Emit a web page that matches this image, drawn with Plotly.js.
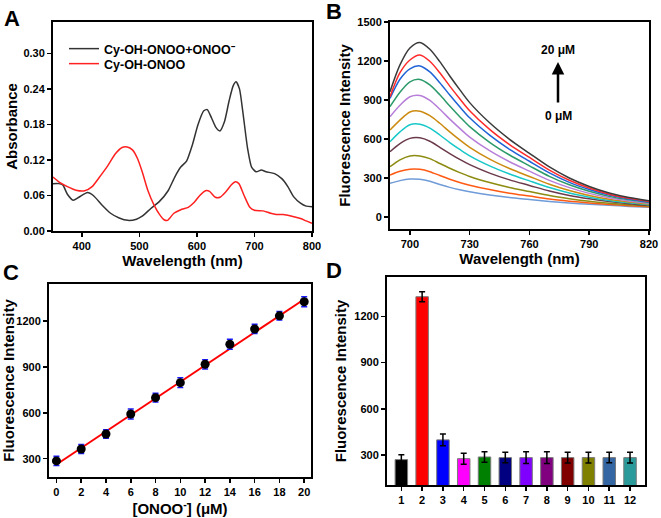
<!DOCTYPE html>
<html><head><meta charset="utf-8">
<script src="https://cdn.plot.ly/plotly-3.0.1.min.js"></script>
<style>html,body{margin:0;padding:0;background:#fff}#chart{width:661px;height:518px}</style>
</head><body><div id="chart"></div>
<script>
// Panel A: absorbance
const absWlBlack = [350,360,367,375,385,395,410,420,435,450,465,480,495,505,520,535,550,562,572,582,592,602,612,618,625,633,640,648,656,663,668,674,680,688,695,703,712,720,735,748,758,768,780,790,800];
const absBlack = [0.080,0.080,0.078,0.062,0.052,0.057,0.065,0.060,0.044,0.030,0.022,0.018,0.020,0.025,0.038,0.050,0.068,0.092,0.108,0.118,0.145,0.180,0.203,0.205,0.192,0.175,0.169,0.185,0.220,0.245,0.252,0.240,0.200,0.140,0.108,0.100,0.103,0.100,0.097,0.088,0.075,0.058,0.047,0.042,0.041];
const absWlRed = [350,360,375,390,405,418,430,445,458,470,479,488,497,505,515,525,535,543,549,553,560,572,585,595,605,615,622,632,640,650,660,667,673,682,692,700,715,728,738,750,765,780,790,800];
const absRed = [0.091,0.083,0.075,0.069,0.068,0.075,0.090,0.110,0.130,0.141,0.142,0.137,0.122,0.100,0.068,0.045,0.028,0.019,0.018,0.022,0.030,0.036,0.040,0.048,0.060,0.068,0.067,0.057,0.057,0.066,0.078,0.083,0.080,0.060,0.040,0.035,0.034,0.030,0.028,0.028,0.025,0.021,0.017,0.013];
const absNames = ['Cy-OH-ONOO+ONOO⁻','Cy-OH-ONOO'];

// Panel B: fluorescence spectra, 0 to 20 uM
const flWl = [690,695,700,705,710,715,720,725,730,740,750,760,770,780,790,800,810,820];
const fl20 = [964,1170,1300,1342,1290,1195,1085,980,880,725,598,490,385,300,235,185,150,125];
const fl18 = [926,1110,1208,1246,1198,1109,1007,910,818,674,557,458,361,283,223,176,144,120];
const fl16 = [913,1060,1140,1162,1116,1033,938,848,763,630,521,429,340,267,212,169,138,116];
const fl14 = [849,960,1040,1058,1016,940,854,772,695,575,477,394,313,248,198,159,132,112];
const fl12 = [772,860,925,935,897,829,753,682,615,510,425,353,282,226,182,148,124,106];
const fl10 = [669,745,808,814,780,721,655,593,536,446,373,312,252,204,166,137,116,100];
const fl8  = [579,655,710,714,684,631,573,520,471,394,331,278,227,185,153,128,109,95];
const fl6  = [503,565,605,609,583,536,488,443,403,338,286,243,200,166,140,119,103,90];
const fl4  = [387,440,470,470,449,412,375,342,312,265,227,196,165,141,121,106,94,84];
const fl2  = [323,352,368,367,349,319,291,266,245,211,183,161,139,122,108,97,87,79];
const fl0  = [259,280,292,290,275,250,228,210,195,170,150,135,120,108,98,90,82,75];
const flSeries = [fl20,fl18,fl16,fl14,fl12,fl10,fl8,fl6,fl4,fl2,fl0];
const flColors = ['#3a3a3a','#ff2a2a','#1f63d6','#2b9a6a','#b77fd9','#cc8a10','#18c8c8','#6b3a4a','#8c8c12','#ff5a14','#6f9cd8'];

// Panel C: calibration
const concX = [0,2,4,6,8,10,12,14,16,18,20];
const concY = [285,363,461,592,699,797,917,1048,1148,1234,1326];
const concErr = [30,30,28,32,28,32,30,32,30,28,32];
const fitX = [0,20];
const fitY = [262,1342];

// Panel D: selectivity
const selCats = [1,2,3,4,5,6,7,8,9,10,11,12];
const selVals = [270,1328,398,276,287,283,283,283,283,283,283,283];
const selErr = [32,33,38,36,34,34,38,38,35,35,34,35];
const selColors = ['#000000','#ff0000','#0000ff','#ff00ff','#008000','#000080','#8000ff','#800080','#800000','#808000','#3366a3','#2a9a9a'];

const FONT = 'Liberation Sans, Arial, sans-serif';
const tickF = {family: FONT, size: 11, color: '#000', weight: 'bold'};
const titleF = {family: FONT, size: 15, color: '#000', weight: 'bold'};
const letterF = {family: FONT, size: 22, color: '#000', weight: 'bold'};
const legF = {family: FONT, size: 12.5, color: '#000', weight: 'bold'};

function ax(extra){
  return Object.assign({
    showline: true, linecolor: '#000', linewidth: 2, mirror: true,
    ticks: 'outside', ticklen: 4, tickwidth: 1.5, tickcolor: '#000',
    showgrid: false, zeroline: false, tickfont: tickF
  }, extra);
}

const traces = [];
traces.push({x: absWlBlack, y: absBlack, name: absNames[0], type: 'scatter', mode: 'lines', legend: 'legend',
  line: {color: '#333333', width: 1.5, shape: 'spline', smoothing: 0.6}, xaxis: 'x', yaxis: 'y'});
traces.push({x: absWlRed, y: absRed, name: absNames[1], type: 'scatter', mode: 'lines', legend: 'legend2',
  line: {color: '#ff2020', width: 1.5, shape: 'spline', smoothing: 0.6}, xaxis: 'x', yaxis: 'y'});

flSeries.slice().reverse().forEach((s, k) => {
  const i = flSeries.length - 1 - k;
  traces.push({x: flWl, y: s, type: 'scatter', mode: 'lines', showlegend: false,
    line: {color: flColors[i], width: 1.5, shape: 'spline', smoothing: 0.8}, xaxis: 'x2', yaxis: 'y2'});
});

traces.push({x: fitX, y: fitY, type: 'scatter', mode: 'lines', showlegend: false,
  line: {color: '#ff0000', width: 2}, xaxis: 'x3', yaxis: 'y3'});
traces.push({x: concX, y: concY, type: 'scatter', mode: 'markers', showlegend: false,
  marker: {color: '#000', size: 9},
  error_y: {type: 'data', array: concErr, visible: true, color: '#1a1aff', thickness: 1.5, width: 3},
  xaxis: 'x3', yaxis: 'y3'});

traces.push({x: selCats, y: selVals, type: 'bar', showlegend: false, width: 0.6,
  marker: {color: selColors, line: {color: '#7a7a7a', width: 1}},
  error_y: {type: 'data', array: selErr, visible: true, color: '#000', thickness: 1.5, width: 3},
  xaxis: 'x4', yaxis: 'y4'});

const W = 661, H = 518;
const dx = (a,b) => [a/W, b/W];
const dy = (top,bottom) => [1-bottom/H, 1-top/H];
const P = (x,y) => ({x: x/W, y: 1-y/H, xref: 'paper', yref: 'paper', xanchor: 'center', yanchor: 'middle'});
const leg = (y) => ({x: 64/W, y: 1-y/H, xanchor: 'left', yanchor: 'middle', bgcolor: 'rgba(0,0,0,0)',
  font: legF, itemwidth: 30, borderwidth: 0});

const layout = {
  width: W, height: H, autosize: false,
  margin: {l:0, r:0, t:0, b:0},
  paper_bgcolor: '#fff', plot_bgcolor: '#fff',
  font: {family: FONT, color: '#000'},
  showlegend: true,
  legend: leg(49),
  legend2: leg(64),
  xaxis: ax({domain: dx(53,312), range: [350,800], tickvals: [400,500,600,700,800], anchor: 'y',
    title: {text: 'Wavelength (nm)', font: titleF, standoff: 0}}),
  yaxis: ax({domain: dy(22,231), range: [0,0.353], tickvals: [0,0.06,0.12,0.18,0.24,0.30], tickformat: '.2f', anchor: 'x',
    title: {text: 'Absorbance', font: titleF, standoff: 2}}),
  xaxis2: ax({domain: dx(390,649), range: [690,820], tickvals: [700,730,760,790,820], anchor: 'y2',
    title: {text: 'Wavelength (nm)', font: titleF, standoff: 0}}),
  yaxis2: ax({domain: dy(22,229), range: [-92,1500], tickvals: [0,300,600,900,1200,1500], anchor: 'x2',
    title: {text: 'Fluorescence Intensity', font: titleF, standoff: 3}}),
  xaxis3: ax({domain: dx(49,311), range: [-0.6,20.55], tickvals: concX, anchor: 'y3',
    title: {text: '[ONOO<sup>-</sup>] (μM)', font: titleF, standoff: 0}}),
  yaxis3: ax({domain: dy(284,477), range: [180,1442], tickvals: [300,600,900,1200], anchor: 'x3',
    title: {text: 'Fluorescence Intensity', font: titleF, standoff: 4}}),
  xaxis4: ax({domain: dx(387,645), range: [0.31,12.72], tickvals: selCats, anchor: 'y4'}),
  yaxis4: ax({domain: dy(277,485), range: [105,1456], tickvals: [300,600,900,1200], anchor: 'x4',
    title: {text: 'Fluorescence Intensity', font: titleF, standoff: 4}}),
  annotations: [
    Object.assign(P(12,18), {text: 'A', showarrow: false, font: letterF}),
    Object.assign(P(334,12), {text: 'B', showarrow: false, font: letterF}),
    Object.assign(P(11,272), {text: 'C', showarrow: false, font: letterF}),
    Object.assign(P(334,270), {text: 'D', showarrow: false, font: letterF}),
    Object.assign(P(558,50), {text: '20 μM', showarrow: false, font: {family: FONT, size: 12, weight: 'bold'}}),
    Object.assign(P(558,116), {text: '0 μM', showarrow: false, font: {family: FONT, size: 12, weight: 'bold'}}),
    {text: '', x: 558/W, y: 1-62/H, xref: 'paper', yref: 'paper', showarrow: true, ax: 0, ay: 42,
      arrowhead: 2, arrowsize: 1, arrowwidth: 2.5, arrowcolor: '#000'}
  ]
};

Plotly.newPlot('chart', traces, layout, {displayModeBar: false, staticPlot: true});
</script>
</body></html>
